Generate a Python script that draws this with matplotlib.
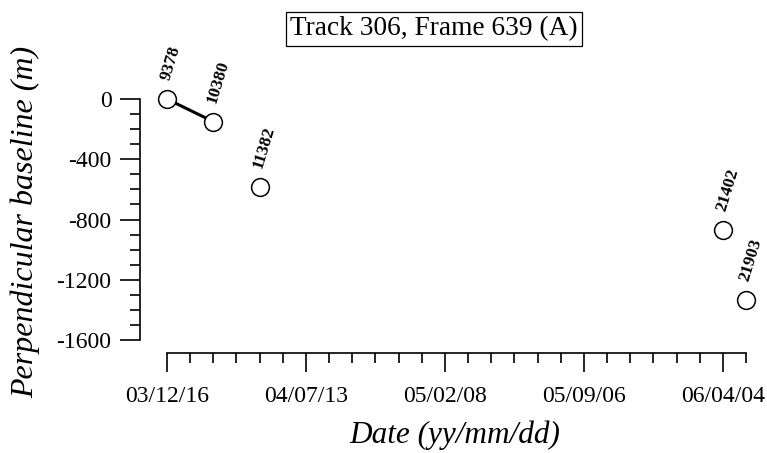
import numpy as np
import matplotlib
matplotlib.use('Agg')
import matplotlib.pyplot as plt
import matplotlib.dates as mdates
from matplotlib.ticker import FixedLocator, MultipleLocator

# acquisitions: orbit number, date, perpendicular baseline (m)
orbits = ['9378', '10380', '11382', '21402', '21903']
dates = np.array(['2003-12-16', '2004-02-24', '2004-05-04',
                  '2006-04-04', '2006-05-09'], dtype='datetime64[D]')
bperp = [0, -150, -585, -870, -1335]
pairs = [(0, 1)]  # interferometric pair drawn as a line

tick_dates = np.array(['2003-12-16', '2004-07-13', '2005-02-08',
                       '2005-09-06', '2006-04-04'], dtype='datetime64[D]')
y_ticks = [0, -400, -800, -1200, -1600]

plt.rcParams['font.family'] = ['Liberation Serif', 'DejaVu Serif']
plt.rcParams['axes.unicode_minus'] = False

fig = plt.figure(figsize=(7.67, 4.53), dpi=100)
ax = fig.add_axes([0.2177, 0.2494, 0.7549, 0.5320])

for i, j in pairs:
    ax.plot(dates[[i, j]], [bperp[i], bperp[j]], color='black', lw=2.2,
            clip_on=False, zorder=2)
ax.plot(dates, bperp, 'o', ms=12.8, mfc='white', mec='black', mew=1.1,
        clip_on=False, zorder=3)
for d, b, name in zip(dates, bperp, orbits):
    ax.annotate(name, (d, b), xytext=(4.5, 12), textcoords='offset points',
                rotation=73, rotation_mode='anchor', ha='left', va='bottom',
                fontsize=12.5, fontweight='bold', annotation_clip=False)

t0 = dates[0]
t1 = np.datetime64('2006-05-09')
ax.set_xlim(mdates.date2num(t0), mdates.date2num(t1))
ax.set_ylim(-1600, 0)

ax.xaxis.set_major_locator(FixedLocator(mdates.date2num(tick_dates)))
ax.xaxis.set_minor_locator(FixedLocator(mdates.date2num(np.arange(t0, t1 + 1, 35))))
ax.xaxis.set_major_formatter(mdates.DateFormatter('%y/%m/%d'))
ax.set_yticks(y_ticks)
ax.yaxis.set_minor_locator(MultipleLocator(100))

for s in ['top', 'right']:
    ax.spines[s].set_visible(False)
ax.spines['left'].set_position(('outward', 19.5))
ax.spines['bottom'].set_position(('outward', 9.5))
for s in ['left', 'bottom']:
    ax.spines[s].set_linewidth(1.2)

ax.tick_params(axis='y', which='major', length=14.4, width=1.2, pad=6, labelsize=17)
ax.tick_params(axis='y', which='minor', length=7.2, width=1.2)
ax.tick_params(axis='x', which='major', length=13.7, width=1.2, pad=10, labelsize=17)
ax.tick_params(axis='x', which='minor', length=7.2, width=1.2)

fig.text(0.566, 1 - 29 / 453, 'Track 306, Frame 639 (A)', ha='center', va='center',
         fontsize=19.7,
         bbox=dict(boxstyle='square,pad=0.15', fc='white', ec='black', lw=0.9))
fig.text(25 / 767, 1 - 222 / 453, 'Perpendicular baseline (m)', rotation=90,
         ha='center', va='center', fontsize=23, style='italic')
fig.text(455 / 767, 1 - 435 / 453, 'Date (yy/mm/dd)', ha='center', va='center',
         fontsize=22.5, style='italic')

fig.savefig('out.png', dpi=100)
